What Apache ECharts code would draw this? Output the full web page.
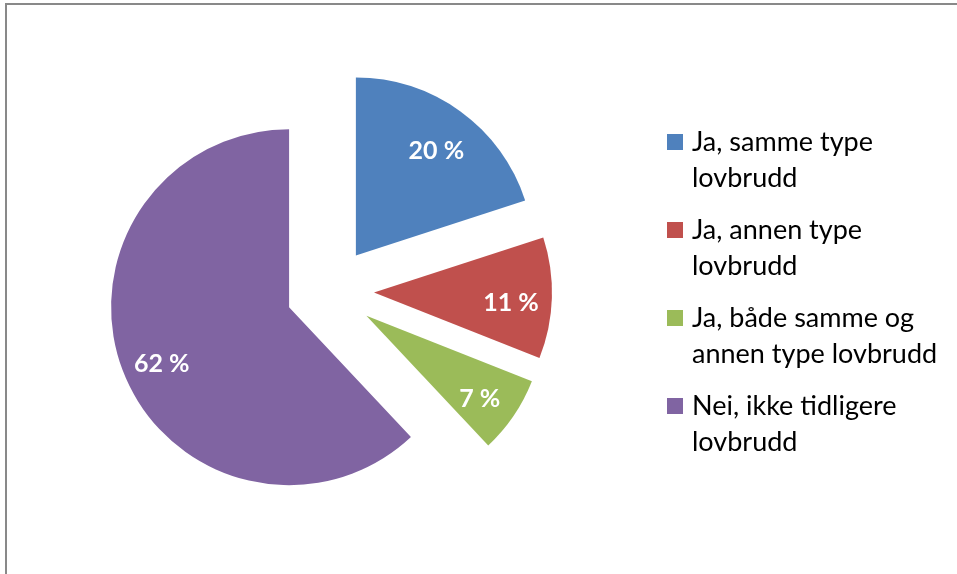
<!DOCTYPE html>
<html>
<head>
<meta charset="utf-8">
<script src="https://cdn.jsdelivr.net/npm/echarts@6/dist/echarts.min.js"></script>
<style>
  html, body { margin: 0; padding: 0; background: #fff; }
  #chart { position: absolute; left: 0; top: 0; width: 957px; height: 574px; }
  .frame { position: absolute; left: 5px; top: 3px; right: 0; bottom: 0;
           border-top: 2px solid #898989; border-left: 2px solid #898989; pointer-events: none; }
</style>
</head>
<body>
<div id="chart"></div>
<div class="frame"></div>
<script>
  // kategorier og andeler (prosent)
  var categories = ['Ja, samme type lovbrudd', 'Ja, annen type lovbrudd', 'Ja, både samme og annen type lovbrudd', 'Nei, ikke tidligere lovbrudd'];
  var legendLines = ['Ja, samme type\nlovbrudd', 'Ja, annen type\nlovbrudd', 'Ja, både samme og\nannen type lovbrudd', 'Nei, ikke tidligere\nlovbrudd'];
  var shares = [20, 11, 7, 62];
  var colors = ['#4F81BD', '#C0504D', '#9BBB59', '#8064A2'];

  var chart = echarts.init(document.getElementById('chart'));

  function pieData() {
    return categories.map(function (c, i) {
      return { name: c, value: shares[i], selected: true };
    });
  }

  chart.setOption({
    animation: false,
    color: colors,
    legend: {
      orient: 'vertical',
      left: 662,
      top: 83,
      itemWidth: 16,
      itemHeight: 16,
      itemGap: -20,
      icon: 'rect',
      data: categories,
      formatter: function (name) {
        // tom første linje slik at ikonet står ved første tekstlinje
        return '\n' + legendLines[categories.indexOf(name)];
      },
      textStyle: {
        fontFamily: 'Lato',
        fontSize: 27,
        lineHeight: 36,
        color: '#000',
        padding: [0, 0, 0, 4]
      }
    },
    series: [
      {
        // selve sektorene
        type: 'pie',
        center: [330, 291],
        radius: 178,
        startAngle: 90,
        clockwise: true,
        selectedMode: 'multiple',
        selectedOffset: 44,
        label: { show: false },
        labelLine: { show: false },
        emphasis: { disabled: true },
        data: pieData()
      },
      {
        // kun etiketter, plassert ca. 3/4 ut i sektoren
        type: 'pie',
        center: [330, 291],
        radius: [90, 178],
        startAngle: 90,
        clockwise: true,
        selectedMode: 'multiple',
        selectedOffset: 44,
        silent: true,
        z: 5,
        itemStyle: { color: 'rgba(0,0,0,0)' },
        labelLine: { show: false },
        emphasis: { disabled: true },
        label: {
          show: true,
          position: 'inner',
          formatter: '\n{c} %',
          color: '#fff',
          fontFamily: 'Lato',
          fontWeight: 'bold',
          fontSize: 25,
          lineHeight: 13
        },
        data: pieData()
      }
    ]
  });
</script>
</body>
</html>
